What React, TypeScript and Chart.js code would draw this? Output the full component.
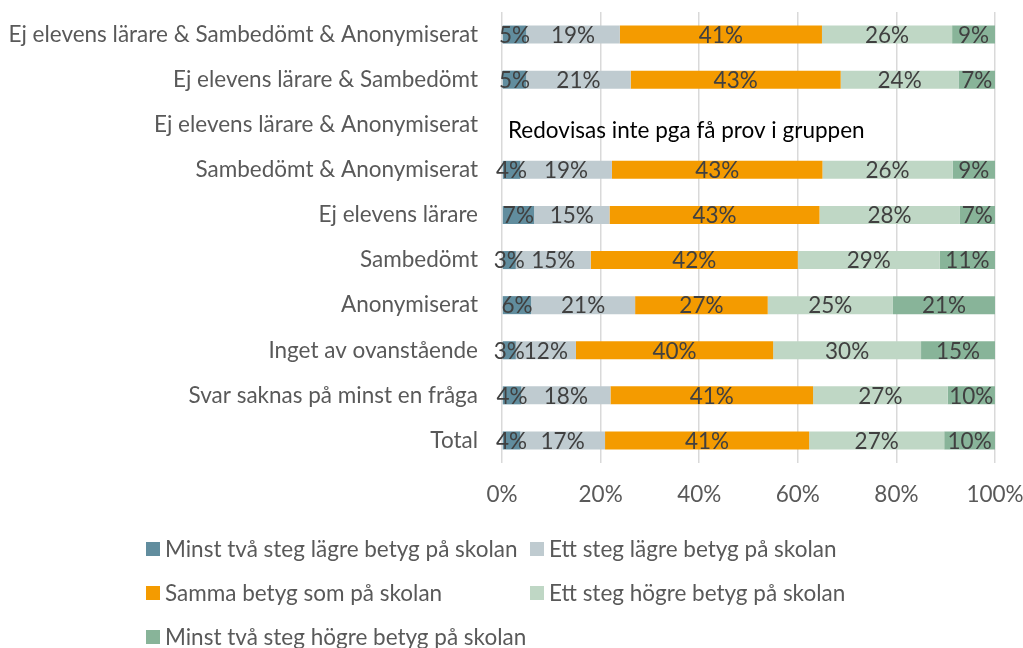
import React, { useEffect, useRef } from "react";
import { Chart, registerables } from "chart.js";

Chart.register(...registerables);

const categories = [
  "Ej elevens lärare & Sambedömt & Anonymiserat",
  "Ej elevens lärare & Sambedömt",
  "Ej elevens lärare & Anonymiserat",
  "Sambedömt & Anonymiserat",
  "Ej elevens lärare",
  "Sambedömt",
  "Anonymiserat",
  "Inget av ovanstående",
  "Svar saknas på minst en fråga",
  "Total",
];

const minstTvaLagre = [4.9, 4.9, null, 3.7, 6.5, 2.8, 5.9, 2.8, 3.9, 3.7];
const ettLagre = [19.0, 21.2, null, 18.6, 15.3, 15.2, 21.1, 12.2, 18.1, 17.2];
const samma = [41.0, 42.6, null, 42.7, 42.6, 42.0, 26.9, 40.0, 41.1, 41.4];
const ettHogre = [26.4, 23.9, null, 26.4, 28.4, 28.8, 25.4, 30.0, 27.3, 27.4];
const minstTvaHogre = [8.7, 7.4, null, 8.6, 7.2, 11.2, 20.7, 15.0, 9.6, 10.3];

const seriesNames = [
  "Minst två steg lägre betyg på skolan",
  "Ett steg lägre betyg på skolan",
  "Samma betyg som på skolan",
  "Ett steg högre betyg på skolan",
  "Minst två steg högre betyg på skolan",
];
const seriesColors = ["#618D9E", "#BFCBD0", "#F49B00", "#BFD7C5", "#88B499"];
const xTicks = [0, 20, 40, 60, 80, 100];
const noDataNote = "Redovisas inte pga få prov i gruppen";
const noDataIndex = 2;

const FONT = "Lato, 'Open Sans', sans-serif";
const FS = 22.5;

const dataLabelPlugin = {
  id: "dataLabels",
  afterDatasetsDraw(chart: any) {
    const ctx = chart.ctx;
    ctx.save();
    ctx.font = `${FS}px ${FONT}`;
    ctx.fillStyle = "#404040";
    ctx.textAlign = "center";
    ctx.textBaseline = "middle";
    chart.data.datasets.forEach((ds: any, di: number) => {
      const meta = chart.getDatasetMeta(di);
      meta.data.forEach((el: any, i: number) => {
        const v = ds.data[i];
        if (v === null || v === undefined) return;
        const cx = (el.x + el.base) / 2;
        ctx.fillText(`${Math.round(v)}%`, cx, el.y + 1);
      });
    });
    const xs = chart.scales.x;
    const ys = chart.scales.y;
    ctx.fillStyle = "#000000";
    ctx.textAlign = "left";
    ctx.fillText(noDataNote, xs.getPixelForValue(0) + 6, ys.getPixelForValue(noDataIndex) + 6);
    ctx.restore();
  },
};

const legendPlugin = {
  id: "customLegend",
  afterDraw(chart: any) {
    const ctx = chart.ctx;
    const colX = [146, 530];
    const rowY = [549, 593, 637];
    ctx.save();
    ctx.font = `${FS}px ${FONT}`;
    ctx.textBaseline = "middle";
    ctx.textAlign = "left";
    chart.data.datasets.forEach((ds: any, i: number) => {
      const x = colX[i % 2];
      const y = rowY[Math.floor(i / 2)];
      ctx.fillStyle = ds.backgroundColor;
      ctx.fillRect(x, y - 7, 14, 14);
      ctx.fillStyle = "#595959";
      ctx.fillText(ds.label, x + 19, y + 1);
    });
    ctx.restore();
  },
};

const zeroPad = (scale: any) => {
  scale.paddingTop = 0;
  scale.paddingBottom = 0;
  scale.paddingLeft = 0;
  scale.paddingRight = 0;
};

export default function App() {
  const ref = useRef<HTMLCanvasElement>(null);
  useEffect(() => {
    if (!ref.current) return;
    const seriesData = [minstTvaLagre, ettLagre, samma, ettHogre, minstTvaHogre];
    const chart = new Chart(ref.current, {
      type: "bar",
      data: {
        labels: categories,
        datasets: seriesData.map((d, i) => ({
          label: seriesNames[i],
          data: d,
          backgroundColor: seriesColors[i],
          borderWidth: 0,
          categoryPercentage: 0.8,
          barPercentage: 0.5,
        })),
      },
      options: {
        indexAxis: "y",
        responsive: false,
        animation: false,
        layout: { padding: { left: 0, right: 28, top: 12, bottom: 0 } },
        plugins: {
          legend: { display: false },
          tooltip: { enabled: false },
        },
        scales: {
          x: {
            stacked: true,
            min: 0,
            max: 100,
            afterBuildTicks: (scale: any) => {
              scale.ticks = xTicks.map((v) => ({ value: v }));
            },
            afterFit: (scale: any) => {
              scale.height = 185;
              zeroPad(scale);
            },
            ticks: {
              callback: (v: any) => `${v}%`,
              color: "#595959",
              font: { family: FONT, size: FS },
              padding: 18,
              maxRotation: 0,
            },
            grid: { color: "#D9D9D9", lineWidth: 1.5, drawTicks: false },
            border: { display: false },
          },
          y: {
            stacked: true,
            afterFit: (scale: any) => {
              scale.width = 502;
              zeroPad(scale);
            },
            ticks: {
              color: "#595959",
              font: { family: FONT, size: FS },
              padding: 24,
              autoSkip: false,
            },
            grid: { display: false, drawTicks: false },
            border: { display: false },
          },
        },
      },
      plugins: [dataLabelPlugin, legendPlugin],
    });
    return () => chart.destroy();
  }, []);
  return (
    <div style={{ position: "absolute", left: 0, top: 0, width: 1023, height: 648, background: "#fff" }}>
      <canvas ref={ref} width={1023} height={648} />
    </div>
  );
}
